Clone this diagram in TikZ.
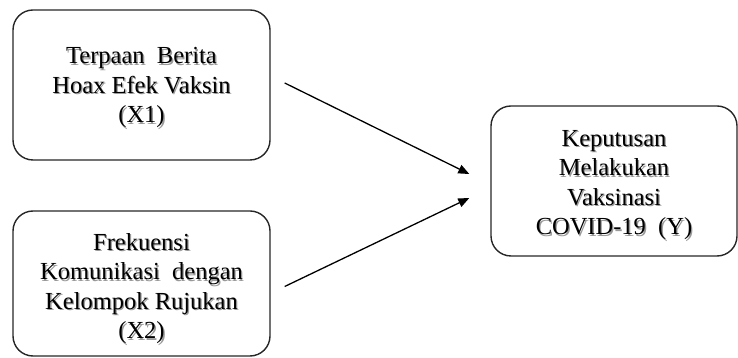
\documentclass[tikz,border=0pt]{standalone}
\usepackage{fontspec}
\setmainfont{Liberation Serif}
\usetikzlibrary{arrows.meta,calc}
\tikzset{
  varbox/.style={draw=black!85, line width=1.4pt, rounded corners=20pt, minimum width=#1, inner sep=0pt},
  vartext/.style={align=center, font=\fontsize{24.5pt}{29.5pt}\selectfont, inner sep=0pt},
  shadowtext/.style={vartext, text=black!40},
  link/.style={line width=1.3pt, -{Triangle[length=11pt,width=9pt]}}
}
\newcommand{\txa}{Terpaan\ \ Berita\\Hoax\ Efek\ Vaksin\\(X1)}
\newcommand{\txb}{Frekuensi\\Komunikasi\ \ dengan\\Kelompok\ Rujukan\\(X2)}
\newcommand{\txc}{Keputusan\\Melakukan\\Vaksinasi\\COVID-19\ \ (Y)}
\begin{document}
\begin{tikzpicture}[x=1pt,y=1pt]
\useasboundingbox (0,0) rectangle (738,358);
% boxes
\node[varbox=257pt, minimum height=150pt] (x1) at (141.5,273) {};
\node[varbox=257pt, minimum height=145pt] (x2) at (141.5,74.5) {};
\node[varbox=246pt, minimum height=150pt] (y) at (614,177) {};
% texts with soft shadow
\node[shadowtext] (x1s) at ($(x1.center)+(1.3pt,-4.5pt)$) {\txa};
\node[vartext] (x1t) at ($(x1.center)+(0pt,-3pt)$) {\txa};
\node[shadowtext] (x2s) at ($(x2.center)+(1.3pt,-6.5pt)$) {\txb};
\node[vartext] (x2t) at ($(x2.center)+(0pt,-5pt)$) {\txb};
\node[shadowtext] (ys) at ($(y.center)+(1.3pt,-5.5pt)$) {\txc};
\node[vartext] (yt) at ($(y.center)+(0pt,-4pt)$) {\txc};
% arrows
\coordinate (a1s) at ($(x1.east)+(14pt,2pt)$);
\coordinate (a1e) at ($(y.west)+(-21pt,7pt)$);
\coordinate (a2s) at ($(x2.east)+(14pt,-3pt)$);
\coordinate (a2e) at ($(y.west)+(-21pt,-17pt)$);
\draw[link] (a1s) -- (a1e);
\draw[link] (a2s) -- (a2e);
\end{tikzpicture}
\end{document}
